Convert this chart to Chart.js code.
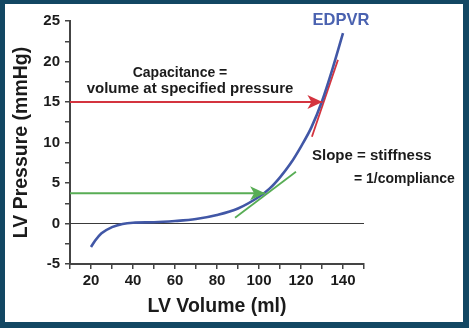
<!DOCTYPE html>
<html>
<head>
<meta charset="utf-8">
<script src="https://cdn.jsdelivr.net/npm/chart.js@4.4.1/dist/chart.umd.min.js"></script>
<style>
    html, body { margin: 0; padding: 0; }
    body { width: 469px; height: 328px; background: #124763; position: relative; overflow: hidden; }
    #frame { position: absolute; left: 5px; top: 4px; width: 458px; height: 318px; background: #fff; }
    #edpvr { position: absolute; left: 0; top: 0; }
</style>
</head>
<body>
<div id="frame"></div>
<canvas id="edpvr" width="469" height="328"></canvas>
<script>
// EDPVR curve
const volume = [20, 22, 25, 30, 35, 40, 50, 60, 70, 80, 90, 100, 105, 110, 115, 120, 125, 130, 135, 140];
const pressure = [-2.9, -2.1, -1.2, -0.45, -0.05, 0.1, 0.15, 0.3, 0.55, 1.05, 1.85, 3.3, 4.3, 5.7, 7.4, 9.5, 11.9, 15.1, 19.1, 23.5];

// tangent lines
const stiffVol = [125.2, 137.6];
const stiffPress = [10.7, 20.2];
const complVol = [88.6, 117.6];
const complPress = [0.7, 6.4];

// arrows (start volume -> end volume at a fixed pressure)
const capArrowVol = [10, 130.2];
const capArrowPress = 15;
const lowArrowVol = [10, 102.9];
const lowArrowPress = 3.75;

const zeroVol = [10, 150];

const xTickLabels = [20, 40, 60, 80, 100, 120, 140];
const yTickLabels = [-5, 0, 5, 10, 15, 20, 25];

const blue = '#4157a6';
const red = '#d4343f';
const green = '#58ad55';
const ink = '#1b1b1b';

function toPoints(xs, ys) {
    return xs.map((x, i) => ({ x: x, y: Array.isArray(ys) ? ys[i] : ys }));
}

function lineSet(data, color, width, order, extra) {
    return Object.assign({
        data: data,
        showLine: true,
        borderColor: color,
        backgroundColor: color,
        borderWidth: width,
        pointRadius: 0,
        order: order
    }, extra || {});
}

// filled arrowhead at the last point of datasets flagged with "arrow"
const arrowHeads = {
    id: 'arrowHeads',
    afterDatasetsDraw(chart) {
        const ctx = chart.ctx;
        chart.data.datasets.forEach((ds, i) => {
            if (!ds.arrow) return;
            const pts = chart.getDatasetMeta(i).data;
            const a = pts[pts.length - 2], b = pts[pts.length - 1];
            const ang = Math.atan2(b.y - a.y, b.x - a.x);
            const L = ds.arrow.len, W = ds.arrow.half, N = ds.arrow.notch;
            ctx.save();
            ctx.translate(b.x, b.y);
            ctx.rotate(ang);
            ctx.beginPath();
            ctx.moveTo(0, 0);
            ctx.lineTo(-L, -W);
            ctx.lineTo(-L + N, 0);
            ctx.lineTo(-L, W);
            ctx.closePath();
            ctx.fillStyle = ds.borderColor;
            ctx.fill();
            ctx.restore();
        });
    }
};

const notes = {
    id: 'notes',
    afterDraw(chart) {
        const ctx = chart.ctx;
        ctx.save();
        ctx.textBaseline = 'alphabetic';
        ctx.fillStyle = ink;
        ctx.font = 'bold 14px "Liberation Sans", Arial, sans-serif';
        ctx.textAlign = 'center';
        ctx.fillText('Capacitance =', 180, 77);
        ctx.font = 'bold 15px "Liberation Sans", Arial, sans-serif';
        ctx.fillText('volume at specified pressure', 190, 93);
        ctx.textAlign = 'left';
        ctx.fillText('Slope = stiffness', 312, 160);
        ctx.font = 'bold 14px "Liberation Sans", Arial, sans-serif';
        ctx.fillText('= 1/compliance', 354, 183);
        ctx.fillStyle = '#4a62b0';
        ctx.font = 'bold 16.5px "Liberation Sans", Arial, sans-serif';
        ctx.textAlign = 'center';
        ctx.fillText('EDPVR', 341, 25);
        ctx.restore();
    }
};

const tickFont = { family: '"Liberation Sans", Arial, sans-serif', size: 15, weight: 'bold' };
const titleFont = { family: '"Liberation Sans", Arial, sans-serif', size: 19.5, weight: 'bold' };

new Chart('edpvr', {
    type: 'scatter',
    data: {
        datasets: [
            lineSet(toPoints(zeroVol, [0, 0]), '#3a3a3a', 1, 6),
            lineSet(toPoints(complVol, complPress), green, 1.8, 5),
            lineSet(toPoints(stiffVol, stiffPress), red, 1.8, 4),
            lineSet(toPoints(volume, pressure), blue, 2.6, 3, { cubicInterpolationMode: 'monotone' }),
            lineSet(toPoints(lowArrowVol, lowArrowPress), green, 2, 2, { arrow: { len: 15, half: 7, notch: 4 } }),
            lineSet(toPoints(capArrowVol, capArrowPress), red, 2, 1, { arrow: { len: 15, half: 7, notch: 4 } })
        ]
    },
    options: {
        responsive: false,
        animation: false,
        devicePixelRatio: 1,
        layout: { padding: { left: 5, right: 105, top: 21, bottom: 6 } },
        plugins: {
            legend: { display: false },
            tooltip: { enabled: false }
        },
        scales: {
            x: {
                type: 'linear',
                min: 10,
                max: 150,
                afterFit: s => { s.height = 58; },
                border: { color: '#444', width: 2 },
                grid: { drawOnChartArea: false, drawTicks: true, tickLength: 5, color: '#444', lineWidth: 1.5 },
                ticks: {
                    stepSize: 10,
                    autoSkip: false,
                    maxRotation: 0,
                    padding: 3,
                    color: ink,
                    font: tickFont,
                    callback: v => xTickLabels.includes(v) ? String(v) : ''
                },
                title: { display: true, text: 'LV Volume (ml)', color: ink, font: titleFont, padding: { top: 0, bottom: 4 } }
            },
            y: {
                min: -5,
                max: 25,
                afterFit: s => { s.width = 65; },
                border: { color: '#444', width: 2 },
                grid: { drawOnChartArea: false, drawTicks: true, tickLength: 5, color: '#444', lineWidth: 1.5 },
                ticks: {
                    stepSize: 2.5,
                    autoSkip: false,
                    padding: 5,
                    color: ink,
                    font: tickFont,
                    callback: v => yTickLabels.includes(v) ? String(v) : ''
                },
                title: { display: true, text: 'LV Pressure (mmHg)', color: ink, font: titleFont, padding: { top: 5, bottom: 0 } }
            }
        }
    },
    plugins: [arrowHeads, notes]
});
</script>
</body>
</html>
